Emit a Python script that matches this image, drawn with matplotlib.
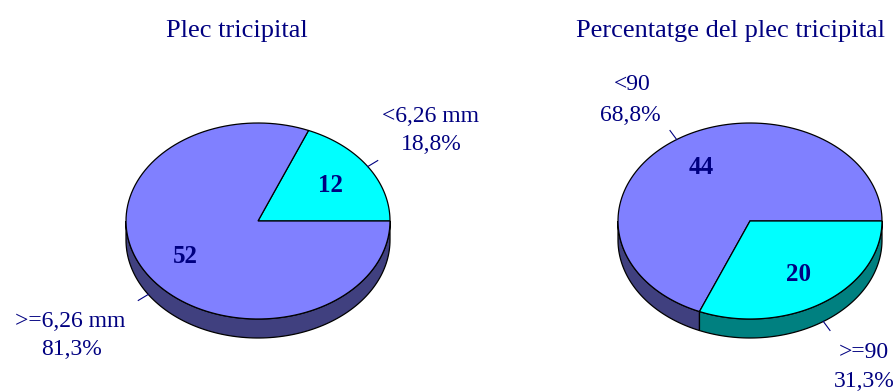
import math
import numpy as np
import matplotlib
matplotlib.use('Agg')
import matplotlib.pyplot as plt
from matplotlib.patches import Polygon

plt.rcParams['font.family'] = ['Liberation Serif', 'DejaVu Serif']

# dades
titles = ['Plec tricipital', 'Percentatge del plec tricipital']
cats_plec = ['<6,26 mm', '>=6,26 mm']
vals_plec = [12, 52]
cats_pct = ['<90', '>=90']
vals_pct = [44, 20]

navy = '#000080'
top_cols = {'cyan': '#00FFFF', 'blue': '#8080FF'}
side_cols = {'cyan': '#008080', 'blue': '#40407F'}
cols_plec = ['cyan', 'blue']
cols_pct = ['blue', 'cyan']

# geometria en pixels (eix y cap avall)
RX, RY, DEPTH = 132, 98, 19
pies = [
    dict(cx=258, cy=221, cats=cats_plec, vals=vals_plec, cols=cols_plec,
         title=(237, 37),
         labels=[((431, 122), (431, 150)), ((70, 327), (72, 355))]),
    dict(cx=750, cy=221, cats=cats_pct, vals=vals_pct, cols=cols_pct,
         title=(731, 37),
         labels=[((632, 90), (630, 121)), ((864, 358), (864, 387))]),
]


def pct_text(v, total):
    p = math.floor(v / total * 1000 + 0.5) / 10
    return f'{p:.1f}'.replace('.', ',') + '%'


def arc(cx, cy, t1, t2, dy=0, n=120):
    t = np.radians(np.linspace(t1, t2, n))
    return np.column_stack([cx + RX * np.cos(t), cy - RY * np.sin(t) + dy])


fig = plt.figure(figsize=(8.96, 3.92), dpi=100, facecolor='white')
ax = fig.add_axes([0, 0, 1, 1])
ax.set_xlim(0, 896)
ax.set_ylim(392, 0)
ax.axis('off')

for i, p in enumerate(pies):
    cx, cy = p['cx'], p['cy']
    total = sum(p['vals'])
    bounds = np.concatenate([[0], np.cumsum(p['vals']) / total * 360])

    # parets laterals (meitat frontal)
    for k, c in enumerate(p['cols']):
        s1, s2 = max(bounds[k], 180), min(bounds[k + 1], 360)
        if s2 <= s1:
            continue
        pts = np.vstack([arc(cx, cy, s1, s2), arc(cx, cy, s2, s1, DEPTH)])
        ax.add_patch(Polygon(pts, closed=True, facecolor=side_cols[c],
                             edgecolor='black', lw=0.9, zorder=2))

    # cara superior
    for k, c in enumerate(p['cols']):
        pts = np.vstack([[cx, cy], arc(cx, cy, bounds[k], bounds[k + 1])])
        ax.add_patch(Polygon(pts, closed=True, facecolor=top_cols[c],
                             edgecolor='black', lw=0.9, joinstyle='miter',
                             zorder=3))

    for k, (cat, v) in enumerate(zip(p['cats'], p['vals'])):
        mid = math.radians((bounds[k] + bounds[k + 1]) / 2)
        cs, sn = math.cos(mid), math.sin(mid)
        # valor dins la porció
        ax.text(cx + 0.66 * RX * cs, cy - 0.66 * RY * sn, str(v),
                color=navy, fontsize=18, fontweight='bold',
                ha='center', va='center', zorder=5)
        # línia guia
        x0 = cx + RX * cs
        y0 = cy - RY * sn + (DEPTH if sn < 0 else 0)
        ax.plot([x0, x0 + 12 * cs], [y0, y0 - 12 * abs(sn) * np.sign(sn) * 0.9],
                color=navy, lw=0.8, zorder=4)
        (lx1, ly1), (lx2, ly2) = p['labels'][k]
        ax.text(lx1, ly1, cat, color=navy, fontsize=17,
                ha='center', va='baseline')
        ax.text(lx2, ly2, pct_text(v, total), color=navy, fontsize=17,
                ha='center', va='baseline')

    ax.text(p['title'][0], p['title'][1], titles[i], color=navy, fontsize=19,
            ha='center', va='baseline')

fig.savefig('out.png', dpi=100, facecolor='white')
